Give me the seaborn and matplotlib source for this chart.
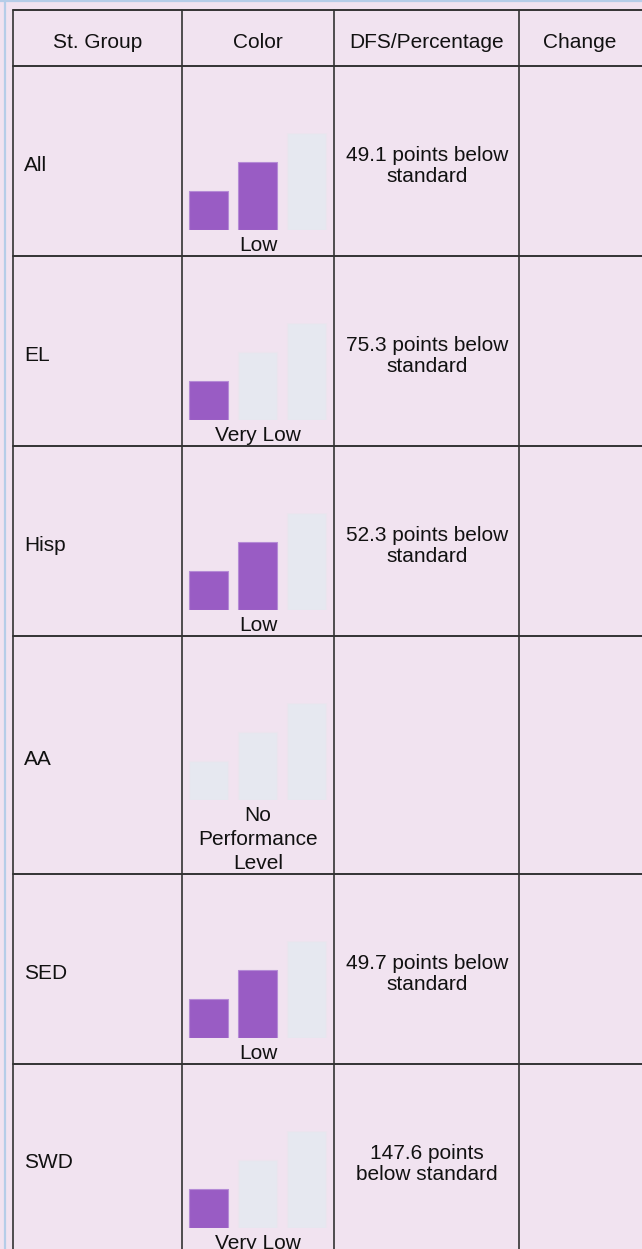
import matplotlib
matplotlib.use("Agg")
import matplotlib.pyplot as plt
import seaborn as sns

# table content
groups = ["All", "EL", "Hisp", "AA", "SED", "SWD"]
levels = ["Low", "Very Low", "Low", "No\nPerformance\nLevel", "Low", "Very Low"]
filled = [2, 1, 2, 0, 2, 1]          # how many of the 3 bars are coloured
dfs = ["49.1 points below\nstandard", "75.3 points below\nstandard",
       "52.3 points below\nstandard", "", "49.7 points below\nstandard",
       "147.6 points\nbelow standard"]
change = ["", "", "", "", "", ""]
headers = ["St. Group", "Color", "DFS/Percentage", "Change"]
bar_steps = ["1", "2", "3"]
bar_heights = [40, 70, 100]

BG = "#F1E3F0"
PURPLE = "#995CC4"
EMPTY = "#E6E8F0"
LINE = "#333333"

sns.set_style("white")
plt.rcParams["font.family"] = ["Liberation Sans", "DejaVu Sans"]

W, H = 642, 1249
fig = plt.figure(figsize=(W / 100, H / 100), dpi=100)
fig.patch.set_facecolor(BG)
ax = fig.add_axes([0, 0, 1, 1])
ax.set_xlim(0, W)
ax.set_ylim(H, 0)
ax.axis("off")
ax.set_facecolor(BG)

# outer light blue frame
ax.plot([4.5, 4.5], [0, H], color="#B5CDE8", lw=1.6)
ax.plot([0, W], [0.8, 0.8], color="#B5CDE8", lw=1.6)

cols = [13, 182, 334, 519, W + 5]
head_top, head_bot = 10, 66
fs = 15

# row tops depend on how many lines the level label needs
tops = [head_bot]
for lab in levels:
    tops.append(tops[-1] + 190 + 24 * (lab.count("\n")))

for i, h in enumerate(headers):
    ax.text((cols[i] + cols[i + 1]) / 2 if i < 3 else 580, (head_top + head_bot) / 2 + 4, h,
            ha="center", va="center", fontsize=fs, color="#111111")

# grid lines
ax.plot([cols[0], W + 5], [head_top, head_top], color=LINE, lw=1.4)
for y in tops:
    ax.plot([cols[0], W + 5], [y, y], color=LINE, lw=1.4)
for x in cols[:4]:
    ax.plot([x, x], [head_top, H + 5], color=LINE, lw=1.2)

for i, g in enumerate(groups):
    r = tops[i]
    mid = (tops[i] + tops[i + 1]) / 2
    ax.text(24, mid + 4, g, ha="left", va="center", fontsize=fs, color="#111111")
    ax.text(427, mid + 5, dfs[i], ha="center", va="center", fontsize=fs,
            color="#111111", linespacing=1.15)
    ax.text(580, mid, change[i], ha="center", va="center", fontsize=fs)

    # little bar indicator
    base = r + 164
    bax = fig.add_axes([184 / W, 1 - base / H, 147 / W, 97 / H])
    pal = {s: (PURPLE if k < filled[i] else EMPTY) for k, s in enumerate(bar_steps)}
    sns.barplot(x=bar_steps, y=bar_heights, hue=bar_steps, palette=pal,
                legend=False, width=0.8, saturation=1, ax=bax)
    for k, p in enumerate(bax.patches):
        p.set_edgecolor("#B58BD6" if k < filled[i] else "#ECE4EE")
        p.set_linewidth(0.8)
    bax.set_xlim(-0.5, 2.5)
    bax.set_ylim(0, 100)
    bax.axis("off")
    bax.patch.set_alpha(0)
    for j, line in enumerate(levels[i].split("\n")):
        ax.text(258, r + 185 + 24 * j, line, ha="center", va="baseline",
                fontsize=fs, color="#111111")

fig.savefig("out.png", dpi=100, facecolor=BG)
